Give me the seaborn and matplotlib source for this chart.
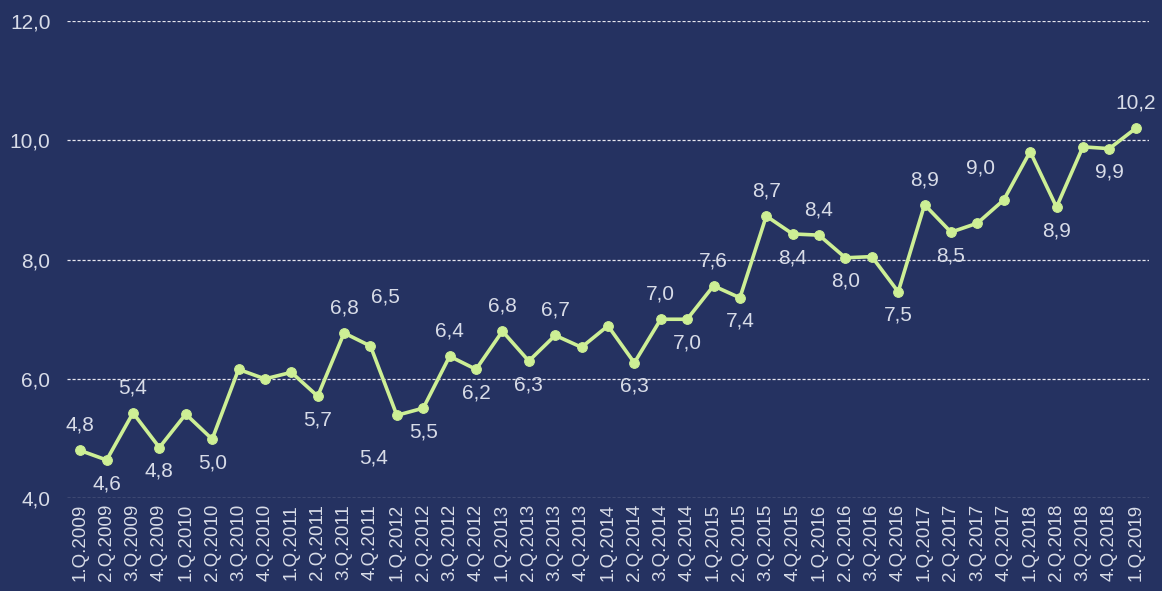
import numpy as np
import pandas as pd
import matplotlib
matplotlib.use("Agg")
import matplotlib.pyplot as plt
import seaborn as sns

quarters = [f"{q}.Q.{y}" for y in range(2009, 2019) for q in range(1, 5)] + ["1.Q.2019"]

values = [4.8, 4.64, 5.43, 4.85, 5.41, 4.99, 6.16, 6.0, 6.11, 5.71,
          6.77, 6.55, 5.39, 5.51, 6.38, 6.16, 6.8, 6.3, 6.73, 6.53,
          6.89, 6.27, 7.0, 7.0, 7.56, 7.36, 8.73, 8.43, 8.41, 8.03,
          8.05, 7.46, 8.92, 8.46, 8.61, 9.0, 9.81, 8.88, 9.89, 9.86,
          10.2]

# where each data label goes: a = above, b = below, '' = none, or custom shift
label_pos = ['a', 'b', 'a', 'b', '', 'b', '', '', '', 'b',
             'a', 'c1', 'c2', 'b', 'a', 'b', 'a', 'b', 'a', '',
             '', 'b', 'a', 'b', 'a', 'b', 'a', 'b', 'a', 'b',
             '', 'b', 'a', 'b', '', 'c3', '', 'b', '', 'b',
             'a']
custom_shift = {'c1': (11, 35), 'c2': (-17, -31), 'c3': (-17, 23)}

bg = "#253261"
line_col = "#CDEF95"
txt_col = "#D8DCE8"

df = pd.DataFrame({"idx": np.arange(len(values)), "val": values})

sns.set_style("dark", {"axes.facecolor": bg, "figure.facecolor": bg})
plt.rcParams['font.family'] = ['Liberation Sans', 'DejaVu Sans']

fig = plt.figure(figsize=(11.62, 5.91), dpi=100)
ax = fig.add_axes([0.0577, 0.157, 0.931, 0.8075])
ax.set_facecolor(bg)

sns.lineplot(data=df, x="idx", y="val", ax=ax, color=line_col, linewidth=2.6,
             marker="o", markersize=7, markeredgecolor=line_col)

for i, (v, p) in enumerate(zip(values, label_pos)):
    if not p:
        continue
    txt = f"{v:.1f}".replace(".", ",")
    if p == 'a':
        dx, dy = 0, 18
    elif p == 'b':
        dx, dy = 0, -17
    else:
        dx, dy = custom_shift[p]
    ax.annotate(txt, (i, v), xytext=(dx, dy), textcoords="offset points",
                ha="center", va="center", color=txt_col, fontsize=15)

ax.set_xlim(-0.5, len(values) - 0.5)
ax.set_ylim(4, 12)
yt = [4, 6, 8, 10, 12]
ax.set_yticks(yt)
ax.set_yticklabels([f"{t:.1f}".replace(".", ",") for t in yt], color=txt_col, fontsize=15)
ax.set_xticks(np.arange(len(quarters)))
ax.set_xticklabels(quarters, rotation=90, color=txt_col, fontsize=13.5, va="top")
ax.tick_params(axis="y", length=0, pad=12)
ax.tick_params(axis="x", length=0, pad=4)
ax.grid(False)
ax.yaxis.grid(True, color="#E6E6EE", linestyle=(0, (2.5, 1.5)), linewidth=0.9)
for s in ax.spines.values():
    s.set_visible(False)
ax.set_xlabel("")
ax.set_ylabel("")

fig.savefig("out.png", dpi=100, facecolor=bg)
